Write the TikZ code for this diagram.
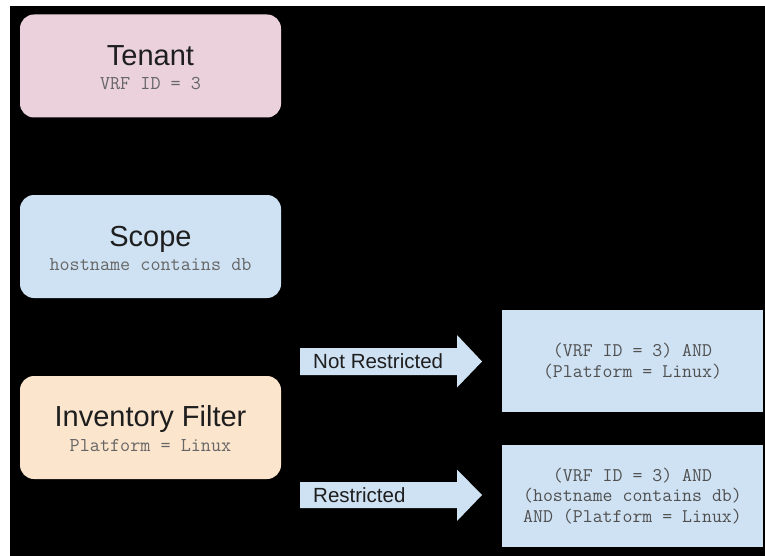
\documentclass[tikz,border=0pt]{standalone}
\usepackage{fontspec}
\setmainfont{Liberation Sans}
\usetikzlibrary{calc}
\definecolor{pinkfill}{HTML}{EAD1DC}
\definecolor{bluefill}{HTML}{CFE2F3}
\definecolor{orangefill}{HTML}{FCE5CD}
\definecolor{titlecol}{HTML}{1E1E1E}
\definecolor{subcol}{HTML}{666666}
\definecolor{rcol}{HTML}{505050}
\tikzset{
  leftbox/.style={rounded corners=14pt, minimum width=261pt, minimum height=103pt, inner sep=0pt},
  rightbox/.style={fill=bluefill, minimum width=261pt, minimum height=102pt, inner sep=0pt,
    align=center, text=rcol, font=\ttfamily\fontsize{19.3}{20.5}\selectfont},
  titletext/.style={anchor=base, inner sep=0pt, text=titlecol, font=\fontsize{29}{32}\selectfont},
  subtext/.style={anchor=base, inner sep=0pt, text=subcol, font=\ttfamily\fontsize{19.6}{20}\selectfont},
  arrowlabel/.style={anchor=west, inner sep=0pt, text=titlecol, font=\fontsize{20.5}{24}\selectfont},
  blockarrow/.style={fill=bluefill}
}
\begin{document}
\begin{tikzpicture}[x=1pt, y=-1pt]
\fill[white] (0,0) rectangle (765,556);
\useasboundingbox (0,0) rectangle (765,556);
\fill[black] (10,6) rectangle (765,556);

% left boxes
\node[leftbox, fill=pinkfill] (tenant) at (150.5,66) {};
\node[leftbox, fill=bluefill] (scope) at (150.5,246.5) {};
\node[leftbox, fill=orangefill] (inv) at (150.5,427.5) {};

\node[titletext] (tenantT) at ($(tenant.north)+(0,51)$) {Tenant};
\node[subtext] (tenantS) at ($(tenant.north)+(0,75)$) {VRF ID = 3};
\node[titletext] (scopeT) at ($(scope.north)+(0,52)$) {Scope};
\node[subtext] (scopeS) at ($(scope.north)+(0,76)$) {hostname contains db};
\node[titletext] (invT) at ($(inv.north)+(0,51)$) {Inventory Filter};
\node[subtext] (invS) at ($(inv.north)+(0,76)$) {Platform = Linux};

% right boxes
\node[rightbox] (res1) at (632.5,361) {(VRF ID = 3) AND\\(Platform = Linux)};
\node[rightbox] (res2) at (632.5,496) {(VRF ID = 3) AND\\(hostname contains db)\\AND (Platform = Linux)};

% block arrows
\coordinate (a1) at (300,361.5);
\coordinate (a2) at (300,495);
\fill[blockarrow] ($(a1)+(0,-13.5)$) -- ++(157,0) -- ++(0,-13) -- ($(a1)+(182,0)$)
  -- ($(a1)+(157,26)$) -- ++(0,-12.5) -- ($(a1)+(0,13.5)$) -- cycle;
\fill[blockarrow] ($(a2)+(0,-13)$) -- ++(157,0) -- ++(0,-12.5) -- ($(a2)+(182,0)$)
  -- ($(a2)+(157,26)$) -- ++(0,-13) -- ($(a2)+(0,13)$) -- cycle;
\node[arrowlabel] (l1) at ($(a1)+(13,0)$) {Not Restricted};
\node[arrowlabel] (l2) at ($(a2)+(13,0)$) {Restricted};
\end{tikzpicture}
\end{document}
